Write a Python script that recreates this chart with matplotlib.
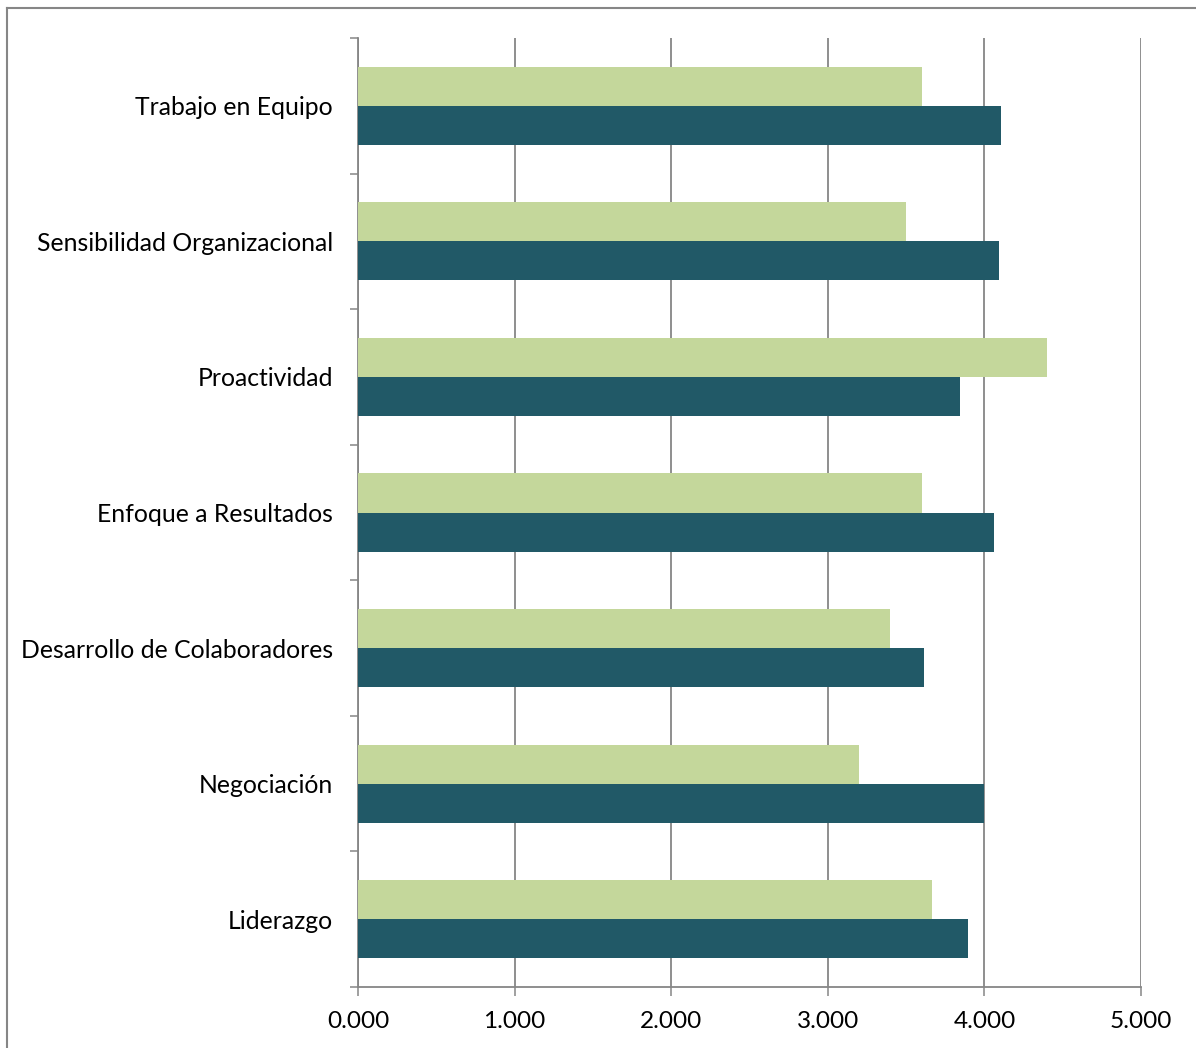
import numpy as np
import matplotlib
matplotlib.use("Agg")
import matplotlib.pyplot as plt
from matplotlib.lines import Line2D

plt.rcParams['font.family'] = ['Lato', 'DejaVu Sans']

# categories bottom -> top
categories = ["Liderazgo", "Negociación", "Desarrollo de Colaboradores",
              "Enfoque a Resultados", "Proactividad",
              "Sensibilidad Organizacional", "Trabajo en Equipo"]
serie_clara = [3.664, 3.199, 3.399, 3.600, 4.401, 3.501, 3.600]
serie_oscura = [3.896, 4.000, 3.612, 4.060, 3.847, 4.092, 4.109]
xticks = [0, 1, 2, 3, 4, 5]

light = "#C4D79B"
dark = "#215967"
grey = "#868686"

fig = plt.figure(figsize=(11.96, 10.48), dpi=100)
ax = fig.add_axes([358/1196, 1-987/1048, (1141-358)/1196, (987-38)/1048])

y = np.arange(len(categories))
h = 0.288
ax.barh(y + h/2, serie_clara, height=h, color=light, edgecolor="none", zorder=3)
ax.barh(y - h/2, serie_oscura, height=h, color=dark, edgecolor="none", zorder=3)

ax.set_xlim(0, 5)
ax.set_ylim(-0.5, len(categories) - 0.5)
ax.set_xticks(xticks)
ax.set_xticklabels(["%.3f" % v for v in xticks])
ax.xaxis.grid(True, color=grey, linewidth=1.3, zorder=0)

ax.set_yticks(np.arange(len(categories) + 1) - 0.5)
ax.set_yticklabels([])
ax.set_yticks(y, minor=True)
ax.set_yticklabels(categories, minor=True)
ax.tick_params(axis='y', which='minor', length=0, pad=18, labelsize=17.8)
ax.tick_params(axis='y', which='major', length=6, width=1.1, color=grey, direction='out')
ax.tick_params(axis='x', length=6.5, width=1.1, color=grey, direction='out', pad=11, labelsize=17.6)

for s in ['top', 'right']:
    ax.spines[s].set_visible(False)
for s in ['left', 'bottom']:
    ax.spines[s].set_color(grey)
    ax.spines[s].set_linewidth(1.3)

# outer chart border (top and left visible)
fig.add_artist(Line2D([7/1196, 1195/1196], [1-8/1048, 1-8/1048], color=grey, lw=1.5))
fig.add_artist(Line2D([7/1196, 7/1196], [1-8/1048, 0], color=grey, lw=1.5))

fig.savefig("out.png", dpi=100, facecolor="white")
